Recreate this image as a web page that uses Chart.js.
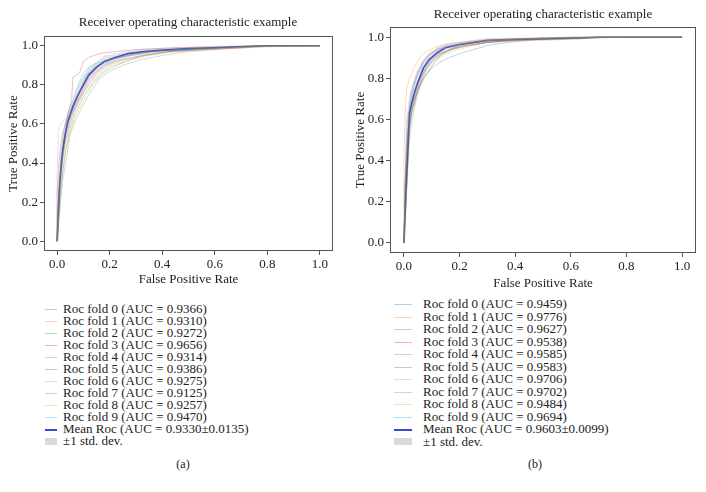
<!DOCTYPE html>
<html><head><meta charset="utf-8">
<script src="https://cdn.jsdelivr.net/npm/chart.js@4"></script>
<style>
html,body{margin:0;padding:0;background:#fff;}
body{width:706px;height:492px;position:relative;overflow:hidden;font-family:"Liberation Serif","DejaVu Serif",serif;color:#222;}
canvas{position:absolute;}
.ttl{position:absolute;font-size:13px;white-space:nowrap;transform:translate(-50%,-50%);}
.leg{position:absolute;font-size:13px;}
.row{position:relative;white-space:nowrap;}
.sw{position:absolute;height:1px;}
.box{position:absolute;height:7px;background:rgba(150,150,150,0.35);}
.cap{position:absolute;font-size:12px;transform:translate(-50%,-50%);}
</style></head>
<body>
<canvas id="cA" width="353" height="290" style="left:0;top:0"></canvas>
<canvas id="cB" width="353" height="293" style="left:353px;top:0"></canvas>
<div class="ttl" style="left:188px;top:22px">Receiver operating characteristic example</div>
<div class="ttl" style="left:543px;top:14px">Receiver operating characteristic example</div>
<div class="leg" id="legA" style="left:0;top:303px"></div>
<div class="leg" id="legB" style="left:353px;top:298px"></div>
<div class="cap" style="left:183px;top:464px">(a)</div>
<div class="cap" style="left:535px;top:464px">(b)</div>
<script>
// ---------- DATA ----------
const tickValues = [0, 0.2, 0.4, 0.6, 0.8, 1.0];
const foldColors = ['#1f77b4','#ff7f0e','#2ca02c','#d62728','#9467bd','#8c564b','#e377c2','#7f7f7f','#bcbd22','#17becf'];

// Panel (a)
const aucA = ['0.9366','0.9310','0.9272','0.9656','0.9314','0.9386','0.9275','0.9125','0.9257','0.9470'];
const meanLabelA = '0.9330±0.0135';
const rocA0 = [[0,0],[0,0.12],[0.01,0.3],[0.02,0.45],[0.03,0.55],[0.05,0.65],[0.07,0.72],[0.09,0.78],[0.11,0.85],[0.14,0.89],[0.18,0.92],[0.23,0.94],[0.3,0.96],[0.4,0.975],[0.55,0.985],[0.7,0.995],[0.85,1],[1,1]];
const rocA1 = [[0,0],[0.005,0.2],[0.015,0.38],[0.03,0.5],[0.05,0.6],[0.07,0.68],[0.09,0.74],[0.12,0.8],[0.15,0.86],[0.19,0.9],[0.25,0.93],[0.32,0.95],[0.42,0.97],[0.55,0.98],[0.7,0.99],[0.85,1],[1,1]];
const rocA2 = [[0,0],[0.01,0.2],[0.02,0.35],[0.035,0.48],[0.05,0.58],[0.07,0.66],[0.1,0.74],[0.13,0.8],[0.16,0.85],[0.2,0.89],[0.26,0.92],[0.33,0.95],[0.42,0.97],[0.55,0.985],[0.7,0.995],[0.8,1],[1,1]];
const rocA3 = [[0,0],[0,0.25],[0.01,0.45],[0.02,0.55],[0.035,0.62],[0.05,0.7],[0.055,0.72],[0.06,0.84],[0.085,0.86],[0.1,0.92],[0.12,0.94],[0.16,0.96],[0.22,0.97],[0.3,0.98],[0.45,0.99],[0.6,0.995],[0.75,1],[1,1]];
const rocA4 = [[0,0],[0.01,0.25],[0.02,0.4],[0.03,0.5],[0.05,0.62],[0.07,0.7],[0.1,0.78],[0.12,0.83],[0.15,0.87],[0.19,0.91],[0.25,0.93],[0.32,0.95],[0.42,0.97],[0.55,0.98],[0.7,0.99],[0.8,1],[1,1]];
const rocA5 = [[0,0],[0.005,0.2],[0.015,0.4],[0.025,0.52],[0.04,0.6],[0.06,0.68],[0.08,0.75],[0.1,0.8],[0.13,0.86],[0.16,0.9],[0.21,0.93],[0.28,0.95],[0.36,0.97],[0.48,0.98],[0.62,0.99],[0.78,1],[1,1]];
const rocA6 = [[0,0],[0,0.35],[0.005,0.58],[0.015,0.6],[0.025,0.62],[0.04,0.64],[0.06,0.66],[0.08,0.72],[0.1,0.76],[0.13,0.82],[0.16,0.86],[0.2,0.9],[0.26,0.93],[0.34,0.95],[0.45,0.97],[0.6,0.985],[0.8,1],[1,1]];
const rocA7 = [[0,0],[0.01,0.15],[0.02,0.3],[0.035,0.42],[0.05,0.55],[0.07,0.62],[0.1,0.7],[0.13,0.77],[0.16,0.83],[0.2,0.87],[0.25,0.9],[0.32,0.93],[0.4,0.95],[0.5,0.97],[0.65,0.985],[0.8,0.995],[1,1]];
const rocA8 = [[0,0],[0.01,0.18],[0.02,0.33],[0.03,0.45],[0.05,0.56],[0.07,0.64],[0.1,0.72],[0.13,0.79],[0.16,0.84],[0.2,0.88],[0.26,0.92],[0.34,0.95],[0.44,0.97],[0.56,0.98],[0.7,0.99],[0.85,1],[1,1]];
const rocA9 = [[0,0],[0.005,0.25],[0.015,0.45],[0.025,0.56],[0.04,0.64],[0.06,0.72],[0.08,0.8],[0.1,0.86],[0.12,0.89],[0.15,0.91],[0.2,0.93],[0.27,0.95],[0.35,0.97],[0.45,0.98],[0.6,0.99],[0.75,1],[1,1]];
const meanFprA = [0,0.005,0.01,0.02,0.03,0.04,0.06,0.08,0.1,0.12,0.15,0.18,0.22,0.27,0.33,0.4,0.5,0.6,0.7,0.8,1];
const meanTprA = [0,0.15,0.3,0.45,0.54,0.61,0.69,0.75,0.8,0.85,0.89,0.92,0.94,0.96,0.97,0.978,0.985,0.99,0.995,1,1];
const upperA   = [0,0.22,0.38,0.52,0.6,0.66,0.73,0.8,0.85,0.89,0.92,0.95,0.96,0.975,0.985,0.99,0.995,1,1,1,1];
const lowerA   = [0,0.08,0.22,0.38,0.48,0.56,0.65,0.7,0.75,0.81,0.86,0.89,0.92,0.945,0.955,0.966,0.975,0.98,0.99,1,1];

// Panel (b)
const aucB = ['0.9459','0.9776','0.9627','0.9538','0.9585','0.9583','0.9706','0.9702','0.9484','0.9694'];
const meanLabelB = '0.9603±0.0099';
const rocB0 = [[0,0],[0.01,0.3],[0.02,0.55],[0.03,0.65],[0.05,0.74],[0.07,0.8],[0.1,0.85],[0.13,0.88],[0.16,0.9],[0.2,0.92],[0.25,0.94],[0.3,0.96],[0.35,0.97],[0.45,0.985],[0.6,0.99],[0.75,1],[1,1]];
const rocB1 = [[0,0],[0,0.4],[0.005,0.65],[0.01,0.75],[0.02,0.8],[0.04,0.86],[0.06,0.91],[0.08,0.93],[0.11,0.95],[0.15,0.965],[0.2,0.975],[0.3,0.99],[0.45,0.995],[0.6,1],[1,1]];
const rocB2 = [[0,0],[0.005,0.3],[0.015,0.55],[0.03,0.67],[0.05,0.75],[0.07,0.8],[0.09,0.84],[0.11,0.88],[0.14,0.92],[0.18,0.95],[0.23,0.97],[0.3,0.98],[0.4,0.99],[0.55,0.995],[0.7,1],[1,1]];
const rocB3 = [[0,0],[0.005,0.25],[0.015,0.5],[0.025,0.62],[0.04,0.7],[0.06,0.78],[0.08,0.84],[0.1,0.88],[0.13,0.91],[0.17,0.94],[0.22,0.96],[0.3,0.975],[0.4,0.985],[0.55,0.993],[0.7,1],[1,1]];
const rocB4 = [[0,0],[0.005,0.28],[0.015,0.55],[0.025,0.65],[0.04,0.72],[0.06,0.8],[0.08,0.86],[0.1,0.9],[0.13,0.92],[0.17,0.945],[0.22,0.96],[0.3,0.975],[0.4,0.988],[0.55,0.995],[0.7,1],[1,1]];
const rocB5 = [[0,0],[0.005,0.3],[0.015,0.56],[0.025,0.66],[0.04,0.74],[0.06,0.8],[0.08,0.85],[0.1,0.89],[0.13,0.92],[0.17,0.94],[0.22,0.955],[0.3,0.975],[0.4,0.985],[0.55,0.993],[0.7,1],[1,1]];
const rocB6 = [[0,0],[0.005,0.35],[0.01,0.6],[0.02,0.7],[0.035,0.78],[0.05,0.84],[0.07,0.89],[0.09,0.92],[0.12,0.945],[0.16,0.96],[0.22,0.975],[0.3,0.985],[0.42,0.993],[0.6,1],[1,1]];
const rocB7 = [[0,0],[0.005,0.33],[0.012,0.58],[0.022,0.68],[0.035,0.76],[0.05,0.83],[0.07,0.88],[0.09,0.915],[0.12,0.94],[0.16,0.955],[0.22,0.97],[0.3,0.983],[0.42,0.992],[0.6,1],[1,1]];
const rocB8 = [[0,0],[0.01,0.25],[0.02,0.48],[0.03,0.6],[0.045,0.7],[0.06,0.76],[0.08,0.82],[0.1,0.86],[0.13,0.9],[0.17,0.93],[0.22,0.95],[0.28,0.97],[0.38,0.98],[0.5,0.99],[0.65,0.997],[0.8,1],[1,1]];
const rocB9 = [[0,0],[0.005,0.32],[0.012,0.58],[0.022,0.68],[0.035,0.76],[0.05,0.82],[0.07,0.88],[0.09,0.91],[0.12,0.94],[0.16,0.955],[0.22,0.97],[0.3,0.982],[0.42,0.99],[0.6,1],[1,1]];
const meanFprB = [0,0.01,0.02,0.03,0.04,0.05,0.07,0.09,0.12,0.15,0.2,0.25,0.3,0.4,0.5,0.6,0.7,1];
const meanTprB = [0,0.32,0.63,0.69,0.74,0.78,0.85,0.89,0.925,0.95,0.965,0.975,0.985,0.99,0.993,0.996,1,1];
const upperB   = [0,0.42,0.72,0.77,0.81,0.84,0.89,0.92,0.95,0.97,0.98,0.988,0.995,0.998,1,1,1,1];
const lowerB   = [0,0.22,0.52,0.6,0.66,0.72,0.81,0.86,0.9,0.93,0.95,0.962,0.975,0.982,0.986,0.992,1,1];

// ---------- BUILD ----------
const FONT = "'Liberation Serif','DejaVu Serif',serif";
function hexA(h, a){const n=parseInt(h.slice(1),16);return `rgba(${n>>16&255},${n>>8&255},${n&255},${a})`;}
const MEAN_COLOR = 'rgba(45,65,205,0.95)';

const boxPlugin = {
  id:'box',
  afterDraw(chart){
    const {ctx, chartArea:a} = chart;
    ctx.save(); ctx.strokeStyle='#555'; ctx.lineWidth=1;
    ctx.strokeRect(Math.round(a.left)+0.5, Math.round(a.top)+0.5, Math.round(a.right-a.left)-1, Math.round(a.bottom-a.top)-1);
    ctx.restore();
  }
};

function build(id, folds, fpr, tpr, up, lo, cfg){
  const zip = (xs, ys) => xs.map((x,i)=>[x, ys[i]]);
  const ds = [];
  folds.forEach((f,i)=>ds.push({data:f, borderColor:hexA(foldColors[i],0.3), borderWidth:1, pointRadius:0, fill:false}));
  ds.push({data:zip(fpr, up), borderWidth:0, borderColor:'rgba(0,0,0,0)', backgroundColor:'rgba(128,128,128,0.2)', pointRadius:0, fill:'+1'});
  ds.push({data:zip(fpr, lo), borderWidth:0, borderColor:'rgba(0,0,0,0)', pointRadius:0, fill:false});
  ds.push({data:zip(fpr, tpr), borderColor:MEAN_COLOR, borderWidth:1.7, pointRadius:0, fill:false});
  const axis = (title, pad) => ({
    type:'linear', min:-0.05, max:1.05,
    afterBuildTicks:s=>{s.ticks = tickValues.map(v=>({value:v}));},
    ticks:{color:'#222', font:{family:FONT, size:13}, padding:2, maxRotation:0, callback:v=>v.toFixed(1)},
    grid:{drawOnChartArea:false, color:'#555', tickLength:4, tickWidth:1},
    border:{display:false},
    title:{display:true, text:title, color:'#222', font:{family:FONT, size:13}, padding:pad}
  });
  const x = axis('False Positive Rate', {top:0, bottom:cfg.xTitlePad});
  x.afterFit = s=>{s.height = cfg.xH;};
  const y = axis('True Positive Rate', {top:cfg.yTitlePad, bottom:0});
  y.afterFit = s=>{s.width = cfg.yW;};
  return new Chart(document.getElementById(id), {
    type:'line',
    data:{datasets:ds},
    options:{
      responsive:false, animation:false, events:[],
      layout:{padding:{left:0, right:cfg.right, top:cfg.top, bottom:0}},
      plugins:{legend:{display:false}, title:{display:false}, tooltip:{enabled:false}},
      elements:{line:{tension:0}},
      scales:{x, y}
    },
    plugins:[boxPlugin]
  });
}

build('cA', [rocA0,rocA1,rocA2,rocA3,rocA4,rocA5,rocA6,rocA7,rocA8,rocA9], meanFprA, meanTprA, upperA, lowerA,
  {xH:39, yW:44, right:20, top:36, xTitlePad:3, yTitlePad:6});
build('cB', [rocB0,rocB1,rocB2,rocB3,rocB4,rocB5,rocB6,rocB7,rocB8,rocB9], meanFprB, meanTprB, upperB, lowerB,
  {xH:40, yW:37, right:10, top:27, xTitlePad:2, yTitlePad:0});

function legend(id, aucs, meanLabel, lx, lw, tx, rowH){
  const el = document.getElementById(id);
  const rows = aucs.map((a,i)=>({label:`Roc fold ${i} (AUC = ${a})`, color:hexA(foldColors[i],0.35), kind:'line'}));
  rows.push({label:`Mean Roc (AUC = ${meanLabel})`, color:MEAN_COLOR, kind:'mean'});
  rows.push({label:'±1 std. dev.', kind:'box'});
  rows.forEach(r=>{
    const d = document.createElement('div'); d.className='row';
    d.style.height = rowH+'px'; d.style.lineHeight = rowH+'px';
    const s = document.createElement('div');
    if(r.kind==='box'){ s.className='box'; s.style.top=(rowH/2-3.5)+'px'; }
    else { s.className='sw'; s.style.background=r.color; s.style.top=Math.floor(rowH/2)+'px'; if(r.kind==='mean') s.style.height='2px'; }
    s.style.left=lx+'px'; s.style.width=lw+'px';
    const t = document.createElement('span'); t.textContent=r.label; t.style.position='absolute'; t.style.left=tx+'px';
    d.appendChild(s); d.appendChild(t); el.appendChild(d);
  });
}
legend('legA', aucA, meanLabelA, 45, 12, 63, 12);
legend('legB', aucB, meanLabelB, 41, 18, 70, 12.5);
</script>
</body></html>
